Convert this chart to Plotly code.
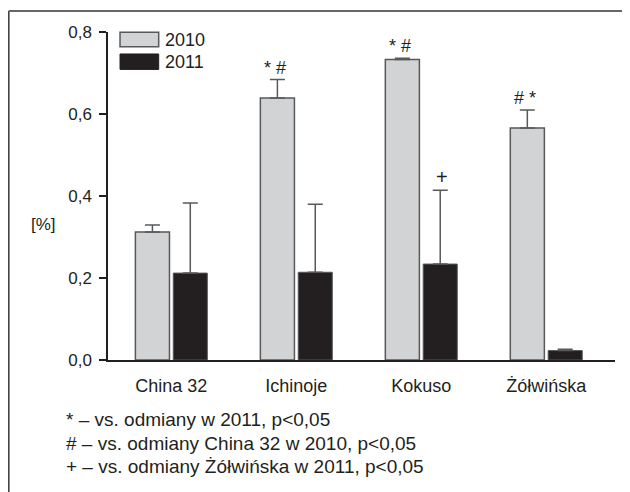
import plotly.graph_objects as go

categories = ["China 32", "Ichinoje", "Kokuso", "Żółwińska"]
years = ["2010", "2011"]
values_2010 = [0.312, 0.639, 0.733, 0.566]
values_2011 = [0.212, 0.214, 0.234, 0.023]
err_2010 = [0.017, 0.045, 0.003, 0.044]
err_2011 = [0.171, 0.166, 0.180, 0.003]
marks_2010 = ["", "* #", "* #", "# *"]
marks_2011 = ["", "", "+", ""]
y_ticks = [0.0, 0.2, 0.4, 0.6, 0.8]
y_tick_labels = ["0,0", "0,2", "0,4", "0,6", "0,8"]
y_title = "[%]"
footnotes = [
    "* – vs. odmiany w 2011, p<0,05",
    "# – vs. odmiany China 32 w 2010, p<0,05",
    "+ – vs. odmiany Żółwińska w 2011, p<0,05",
]

FONT = "Liberation Sans, Arial, Helvetica, sans-serif"
INK = "#231f20"
GRAY = "#d1d3d4"
EDGE = "#58595b"
FS = 17

fig = go.Figure()
fig.add_trace(go.Bar(
    x=categories, y=values_2010, name=years[0],
    marker=dict(color=GRAY, line=dict(color=EDGE, width=1.5)),
    error_y=dict(type="data", array=err_2010, arrayminus=[0] * 4, symmetric=False,
                 color=EDGE, thickness=1.5, width=7.5),
    showlegend=False,
))
fig.add_trace(go.Bar(
    x=categories, y=values_2011, name=years[1],
    marker=dict(color=INK, line=dict(color=EDGE, width=1)),
    error_y=dict(type="data", array=err_2011, arrayminus=[0] * 4, symmetric=False,
                 color=EDGE, thickness=1.5, width=7.5),
    showlegend=False,
))

annotations = []
for c, v, e, m in zip(categories, values_2010, err_2010, marks_2010):
    if m:
        annotations.append(dict(x=c, y=v + e, xref="x", yref="y", text=m, showarrow=False,
                                xshift=-21, yanchor="bottom", yshift=0,
                                font=dict(family=FONT, size=18, color=INK)))
for c, v, e, m in zip(categories, values_2011, err_2011, marks_2011):
    if m:
        annotations.append(dict(x=c, y=v + e, xref="x", yref="y", text=m, showarrow=False,
                                xshift=21, yanchor="bottom", yshift=0,
                                font=dict(family=FONT, size=20, color=INK)))

# y title
annotations.append(dict(x=-0.127, y=0.412, xref="paper", yref="paper", text=y_title,
                        showarrow=False, xanchor="center", yanchor="middle",
                        font=dict(family=FONT, size=FS, color=INK)))
# legend texts
annotations.append(dict(x=0.108, y=0.977, xref="paper", yref="paper", text=years[0],
                        showarrow=False, xanchor="left", yanchor="middle",
                        font=dict(family=FONT, size=18, color=INK)))
annotations.append(dict(x=0.108, y=0.910, xref="paper", yref="paper", text=years[1],
                        showarrow=False, xanchor="left", yanchor="middle",
                        font=dict(family=FONT, size=18, color=INK)))
# footnotes
for i, t in enumerate(footnotes):
    annotations.append(dict(x=-0.0863, y=-0.181 - i * 0.0725, xref="paper", yref="paper",
                            text=t, showarrow=False, xanchor="left", yanchor="middle",
                            font=dict(family=FONT, size=19, color=INK)))

shapes = [
    # legend swatches
    dict(type="rect", xref="paper", yref="paper", x0=0.0237, x1=0.1, y0=0.955, y1=0.999,
         fillcolor=GRAY, line=dict(color=EDGE, width=1.5)),
    dict(type="rect", xref="paper", yref="paper", x0=0.0237, x1=0.1, y0=0.886, y1=0.933,
         fillcolor=INK, line=dict(color=INK, width=1)),
    # outer frame (left and top)
    dict(type="line", xref="paper", yref="paper", x0=-0.196, x1=-0.196, y0=1.064, y1=-0.45,
         line=dict(color="#444444", width=2)),
    dict(type="line", xref="paper", yref="paper", x0=-0.196, x1=1.1, y0=1.064, y1=1.064,
         line=dict(color="#666666", width=2)),
]

fig.update_layout(
    width=622, height=484,
    margin=dict(l=100, r=15, t=24, b=132),
    paper_bgcolor="white", plot_bgcolor="white",
    barmode="group", bargap=0.394, bargroupgap=0.1,
    font=dict(family=FONT, size=FS, color=INK),
    annotations=annotations, shapes=shapes,
    showlegend=False,
)
fig.update_xaxes(
    range=[-0.507, 3.55], showline=True, linecolor=INK, linewidth=1.5,
    ticks="", showgrid=False, zeroline=False, ticklabelstandoff=9,
    tickfont=dict(family=FONT, size=18, color=INK),
)
fig.update_yaxes(
    range=[0, 0.8], showline=True, linecolor=INK, linewidth=1.5,
    ticks="outside", ticklen=7, tickwidth=1.5, tickcolor=INK,
    tickvals=y_ticks, ticktext=y_tick_labels, showgrid=False, zeroline=False,
    ticklabelstandoff=4, tickfont=dict(family=FONT, size=FS, color=INK),
)

fig.write_html("out.html")
